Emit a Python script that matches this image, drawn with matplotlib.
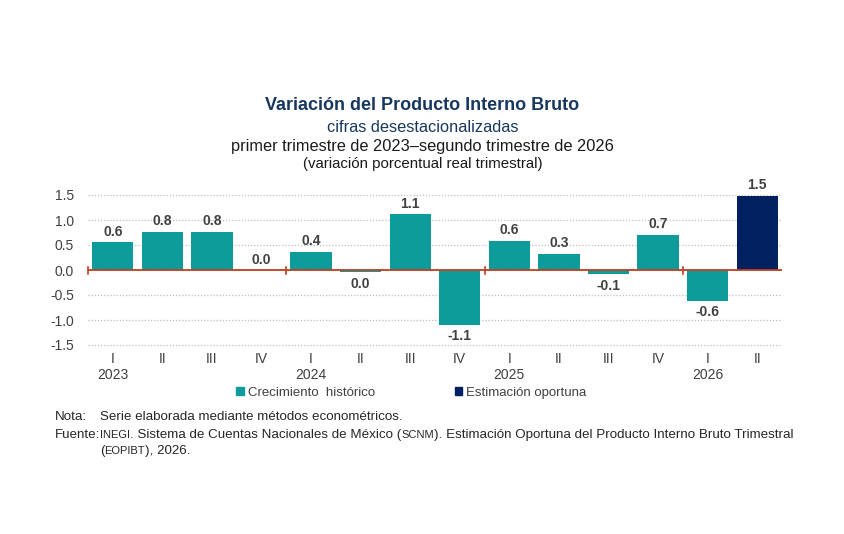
import numpy as np
import matplotlib.pyplot as plt
from matplotlib.patches import Patch
import matplotlib.transforms as mtransforms

# data
quarters = ['I', 'II', 'III', 'IV', 'I', 'II', 'III', 'IV', 'I', 'II', 'III', 'IV', 'I', 'II']
years = ['2023', '2024', '2025', '2026']
growth = [0.56, 0.77, 0.77, 0.0, 0.37, -0.04, 1.11, -1.10, 0.59, 0.33, -0.08, 0.70, -0.62, 1.49]
value_labels = ['0.6', '0.8', '0.8', '0.0', '0.4', '0.0', '1.1', '-1.1', '0.6', '0.3', '-0.1', '0.7', '-0.6', '1.5']
is_estimate = [False] * 13 + [True]
yticks = [-1.5, -1.0, -0.5, 0.0, 0.5, 1.0, 1.5]

teal = '#0E9B9B'
navy = '#002060'
zero_red = '#C0401E'
txt = '#404040'

plt.rcParams['font.family'] = ['Liberation Sans', 'DejaVu Sans']

fig = plt.figure(figsize=(8.45, 5.34), dpi=100)
ax = fig.add_axes([88 / 845, 1 - 347.5 / 534, 694 / 845, 155 / 534])

x = np.arange(len(growth))
colors = [navy if e else teal for e in is_estimate]
ax.bar(x, growth, width=0.83, color=colors, zorder=2)

ax.set_xlim(-0.5, len(growth) - 0.5)
ax.set_ylim(-1.55, 1.55)
ax.set_yticks(yticks)
ax.set_yticklabels([f'{v:.1f}' for v in yticks], fontsize=10, color=txt)
ax.tick_params(axis='y', length=0, pad=10)
ax.yaxis.grid(True, linestyle=(0, (1, 1.5)), color='#BFBFBF', linewidth=0.9, zorder=0)
for s in ax.spines.values():
    s.set_visible(False)

ax.set_xticks(x)
ax.set_xticklabels(quarters, fontsize=10, color=txt)
ax.tick_params(axis='x', length=0, pad=3)

# year labels under the first quarter of each year
trans = mtransforms.blended_transform_factory(ax.transData, ax.transAxes)
for i, yr in enumerate(years):
    ax.text(i * 4, -0.18, yr, transform=trans, ha='center', va='center',
            fontsize=10, color=txt)

# zero line with year separators
ax.axhline(0, color=zero_red, linewidth=1.3, zorder=3)
for i in range(len(years)):
    ax.plot([i * 4 - 0.5] * 2, [-0.07, 0.07], color=zero_red, linewidth=1.2,
            zorder=3, clip_on=False)

# value labels
for xi, v, lab in zip(x, growth, value_labels):
    if v >= 0:
        ax.text(xi, v + 0.07, lab, ha='center', va='bottom', fontsize=10,
                fontweight='bold', color=txt)
    else:
        ax.text(xi, v - 0.09, lab, ha='center', va='top', fontsize=10,
                fontweight='bold', color=txt)

# titles
fig.text(0.5, 1 - 106 / 534, 'Variación del Producto Interno Bruto', ha='center',
         va='center', fontsize=13, fontweight='bold', color='#17375E')
fig.text(0.5, 1 - 128 / 534, 'cifras desestacionalizadas', ha='center',
         va='center', fontsize=11.8, color='#17375E')
fig.text(0.5, 1 - 146 / 534, 'primer trimestre de 2023–segundo trimestre de 2026',
         ha='center', va='center', fontsize=11.8, color='#1a1a1a')
fig.text(0.5, 1 - 164 / 534, '(variación porcentual real trimestral)',
         ha='center', va='center', fontsize=10.8, color='#1a1a1a')

# legend
handles = [Patch(color=teal, label='Crecimiento  histórico'),
           Patch(color=navy, label='Estimación oportuna')]
fig.legend(handles=handles, loc='center', bbox_to_anchor=(411.5 / 845, 1 - 393 / 534),
           ncol=2, frameon=False, fontsize=9.5, handlelength=0.55, handleheight=0.55,
           handletextpad=0.35, columnspacing=6.0, labelcolor=txt)

# footnotes
fs, fs_small = 9.6, 8
fcol = '#262626'
fig.text(55 / 845, 1 - 420 / 534, 'Nota:', fontsize=fs, va='baseline', color=fcol)
fig.text(100 / 845, 1 - 420 / 534, 'Serie elaborada mediante métodos econométricos.',
         fontsize=fs, va='baseline', color=fcol)
fig.text(55 / 845, 1 - 438 / 534, 'Fuente:', fontsize=fs, va='baseline', color=fcol)

line1 = [('INEGI', True), ('. Sistema de Cuentas Nacionales de México (', False),
         ('SCNM', True), ('). Estimación Oportuna del Producto Interno Bruto Trimestral', False)]
line2 = [('(', False), ('EOPIBT', True), ('), 2026.', False)]

for pieces, yb in [(line1, 1 - 438 / 534), (line2, 1 - 454 / 534)]:
    prev = None
    for s, small in pieces:
        size = fs_small if small else fs
        if prev is None:
            prev = fig.text(100 / 845, yb, s, fontsize=size, va='baseline', color=fcol)
        else:
            prev = fig.add_artist(plt.Annotation(
                s, xy=(1, yb), xycoords=(prev, 'figure fraction'),
                fontsize=size, va='baseline', ha='left', color=fcol))

fig.savefig('out.png', dpi=100)
